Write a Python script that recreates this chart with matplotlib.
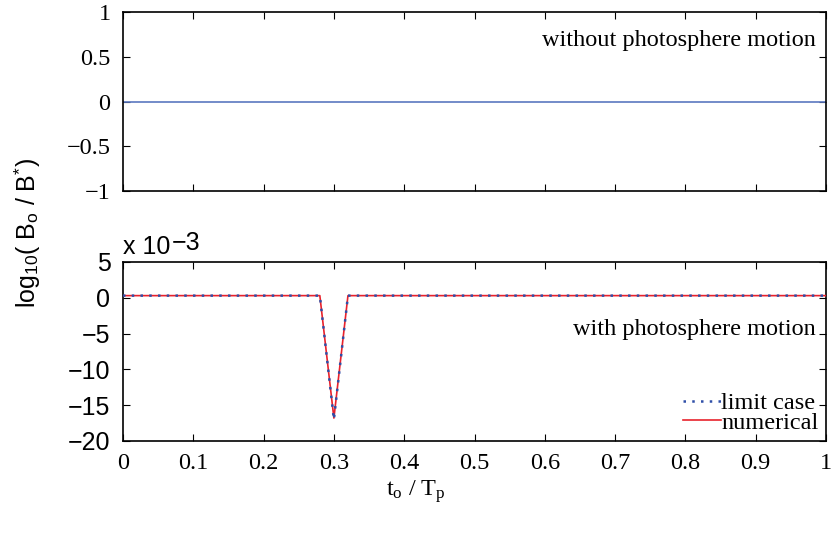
import matplotlib

matplotlib.use("Agg")
import matplotlib.pyplot as plt
from matplotlib.ticker import FuncFormatter, MultipleLocator

# top panel: no photosphere motion -> flat at zero
T_TOP = [0.0, 1.0]
B_TOP = [0.0, 0.0]

# bottom panel: dip around t0/Tp = 0.3 (values in absolute units)
T_BOT = [0.0, 0.28, 0.30, 0.32, 1.0]
LIMIT_CASE = [0.3e-3, 0.3e-3, -17.0e-3, 0.3e-3, 0.3e-3]
NUMERICAL = [0.3e-3, 0.3e-3, -16.8e-3, 0.3e-3, 0.3e-3]

X_TICKS = [0, 0.1, 0.2, 0.3, 0.4, 0.5, 0.6, 0.7, 0.8, 0.9, 1]
TOP_YTICKS = [-1, -0.5, 0, 0.5, 1]
BOT_YTICKS = [-20e-3, -15e-3, -10e-3, -5e-3, 0, 5e-3]

SERIF = ["Liberation Serif", "DejaVu Serif"]
SANS = ["Liberation Sans", "DejaVu Sans"]

plt.rcParams["mathtext.fontset"] = "custom"
plt.rcParams["mathtext.rm"] = "Liberation Serif"
plt.rcParams["mathtext.it"] = "Liberation Serif"
plt.rcParams["mathtext.sf"] = "Liberation Sans"


def style_axes(ax):
    ax.tick_params(direction="in", top=True, right=True, length=5, width=0.8,
                   pad=9)
    for sp in ax.spines.values():
        sp.set_linewidth(1.2)
    ax.set_xlim(0, 1)
    ax.xaxis.set_major_locator(MultipleLocator(0.1))


fig = plt.figure(figsize=(8.31, 5.34), dpi=100)
ax1 = fig.add_axes([0.148, 0.6423, 0.846, 0.3352])
ax2 = fig.add_axes([0.148, 0.1742, 0.846, 0.3352])

# --- top panel
ax1.plot(T_TOP, B_TOP, color="#5b78c0", linewidth=1.2)
style_axes(ax1)
ax1.set_ylim(-1, 1)
ax1.set_yticks(TOP_YTICKS)
ax1.set_yticklabels(["\u22121", "\u22120.5", "0", "0.5", "1"],
                    family=SERIF, fontsize=17.5)
ax1.set_xticklabels([])
ax1.text(0.985, 0.84, "without photosphere motion", transform=ax1.transAxes,
         ha="right", va="center", family=SERIF, fontsize=17.5)

# --- bottom panel
ax2.plot(T_BOT, NUMERICAL, color="#e8222c", linewidth=1.2, label="numerical",
         zorder=3)
ax2.plot(T_BOT, LIMIT_CASE, color="#2f4fa8", linewidth=1.8, linestyle=(0, (1, 2.5)),
         label="limit case", zorder=4)
style_axes(ax2)
ax2.set_ylim(-20e-3, 5e-3)
ax2.set_yticks(BOT_YTICKS)
ax2.yaxis.set_major_formatter(FuncFormatter(
    lambda v, p: f"{v * 1e3:.0f}".replace("-", "\u2212")))
for lab in ax2.get_yticklabels():
    lab.set_family(SANS)
    lab.set_fontsize(18)
ax2.set_xticks(X_TICKS)
ax2.set_xticklabels(["0", "0.1", "0.2", "0.3", "0.4", "0.5", "0.6", "0.7",
                     "0.8", "0.9", "1"], family=SERIF, fontsize=17.5)
# MATLAB-style exponent label
ax2.text(0.0, 1.015, "x 10", transform=ax2.transAxes,
         ha="left", va="bottom", family=SANS, fontsize=18)
ax2.text(0.07, 1.04, "\u22123", transform=ax2.transAxes,
         ha="left", va="bottom", family=SANS, fontsize=18)
ax2.text(0.985, 0.62, "with photosphere motion", transform=ax2.transAxes,
         ha="right", va="center", family=SERIF, fontsize=17.5)

handles, labels = ax2.get_legend_handles_labels()
leg = ax2.legend(handles[::-1], labels[::-1], loc="lower right", frameon=False,
                 prop={"family": SERIF, "size": 17.5}, handlelength=1.6,
                 handletextpad=0.0, labelspacing=-0.1, borderpad=0.2,
                 borderaxespad=0.1)

fig.text(0.5, 0.08, "t$_\\mathrm{o}$ / T$_\\mathrm{p}$", ha="center",
         va="center", family=SERIF, fontsize=17.5)
fig.text(0.032, 0.563, "log$_{\\mathsf{10}}$( B$_{\\mathsf{o}}$ / B$^{\\mathsf{*}}$)",
         rotation=90, ha="center", va="center", family=SANS, fontsize=18)

fig.savefig("out.png", dpi=100, facecolor="white")
